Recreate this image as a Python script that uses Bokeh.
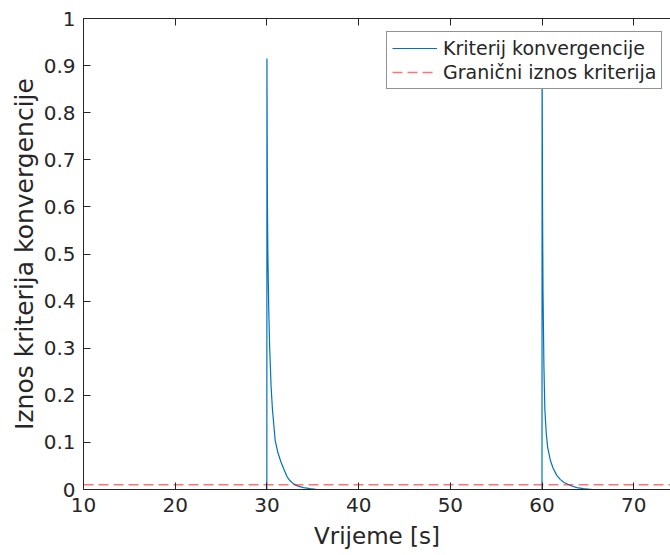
from bokeh.plotting import figure
from bokeh.models import Range1d, FixedTicker, LinearAxis, Legend, LegendItem, BasicTickFormatter
from bokeh.embed import file_html
from bokeh.resources import INLINE

# Convergence criterion samples
time_s = [10.0, 29.99, 30.0, 30.05, 30.1, 30.2, 30.3, 30.45, 30.6, 30.9, 31.2, 31.5,
          31.8, 32.2, 32.5, 32.9, 33.4, 34.0, 34.7, 35.5, 59.99, 60.0, 60.05, 60.1,
          60.2, 60.3, 60.45, 60.6, 60.9, 61.2, 61.6, 62.0, 62.4, 62.8, 63.3, 63.8,
          64.5, 65.5, 80.0]
criterion = [0.0, 0.0, 0.915, 0.62, 0.5, 0.38, 0.3, 0.22, 0.17, 0.104, 0.078, 0.06,
             0.045, 0.027, 0.019, 0.012, 0.007, 0.004, 0.002, 0.0, 0.0, 0.95, 0.6, 0.42,
             0.26, 0.17, 0.12, 0.09, 0.062, 0.045, 0.03, 0.021, 0.015, 0.011, 0.007, 0.004,
             0.002, 0.0, 0.0]

threshold_time = [10.0, 80.0]
threshold_value = [0.01, 0.01]

x_ticks = [10, 20, 30, 40, 50, 60, 70]
y_ticks = [0, 0.1, 0.2, 0.3, 0.4, 0.5, 0.6, 0.7, 0.8, 0.9, 1]
y_tick_labels = ["0", "0.1", "0.2", "0.3", "0.4", "0.5", "0.6", "0.7", "0.8", "0.9", "1"]

series_labels = ["Kriterij konvergencije", "Granični iznos kriterija"]
x_label = "Vrijeme [s]"
y_label = "Iznos kriterija konvergencije"

FONT = "DejaVu Sans"
INK = "#262626"

p = figure(width=670, height=555, x_range=Range1d(10, 74), y_range=Range1d(0, 1),
           output_backend="svg", toolbar_location=None,
           min_border_left=83, min_border_right=0, min_border_top=18, min_border_bottom=66)
p.outline_line_color = None
p.xgrid.visible = False
p.ygrid.visible = False
p.background_fill_color = "white"
p.border_fill_color = "white"

r_crit = p.line(time_s, criterion, line_color="#0072BD", line_width=1.2)
r_thr = p.line(threshold_time, threshold_value, line_color="#ff0000", line_alpha=0.55,
               line_width=1.6, line_dash="10 5")

def style_axis(ax, label_size="20px"):
    ax.axis_line_color = INK
    ax.axis_line_width = 1
    ax.major_tick_line_color = INK
    ax.major_tick_in = 7
    ax.major_tick_out = 0
    ax.minor_tick_line_color = None
    ax.major_label_text_color = INK
    ax.major_label_text_font = FONT
    ax.major_label_text_font_size = label_size
    ax.axis_label_text_color = INK
    ax.axis_label_text_font = FONT
    ax.axis_label_text_font_style = "normal"

xa = p.xaxis[0]
xa.ticker = FixedTicker(ticks=x_ticks)
style_axis(xa)
xa.major_label_standoff = 8
xa.axis_label = x_label
xa.axis_label_text_font_size = "23px"
xa.axis_label_standoff = 8

ya = p.yaxis[0]
ya.ticker = FixedTicker(ticks=y_ticks)
ya.formatter = BasicTickFormatter(precision=1)
ya.major_label_overrides = dict(zip(y_ticks, y_tick_labels))
style_axis(ya)
ya.major_label_standoff = 8
ya.axis_label = y_label
ya.axis_label_text_font_size = "25px"
ya.axis_label_standoff = 2

top = LinearAxis(ticker=FixedTicker(ticks=x_ticks))
style_axis(top, label_size="0px")
top.major_label_standoff = 0
top.major_label_text_alpha = 0
p.add_layout(top, "above")

legend = Legend(items=[LegendItem(label=series_labels[0], renderers=[r_crit]),
                       LegendItem(label=series_labels[1], renderers=[r_thr])],
                location=(303, 400))
legend.margin = 0
legend.padding = 5
legend.spacing = 2
legend.glyph_width = 45
legend.glyph_height = 20
legend.label_height = 20
legend.label_standoff = 6
legend.label_text_font = FONT
legend.label_text_font_size = "19px"
legend.label_text_color = INK
legend.border_line_color = INK
legend.border_line_width = 1
legend.background_fill_color = "white"
legend.background_fill_alpha = 1
p.add_layout(legend)

open("out.html", "w").write(file_html(p, INLINE))
